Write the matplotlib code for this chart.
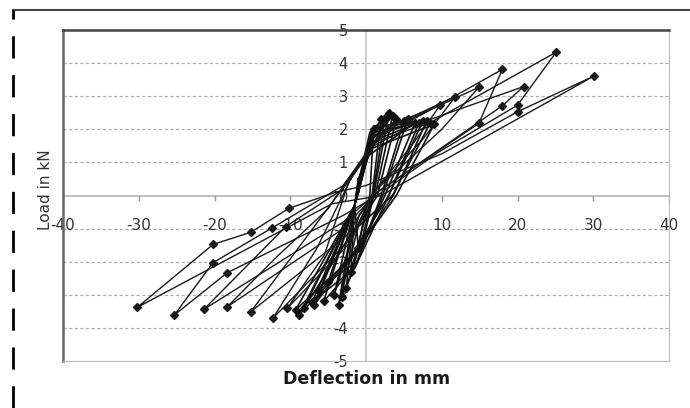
import matplotlib.pyplot as plt
from matplotlib.lines import Line2D

plt.rcParams['font.family'] = ['DejaVu Sans']

# large cycles: deflection (mm) and load (kN) in loading order, marker indices
c30_x = [-4.0, 0.0, 10.1, 20.0, 30.1, 2.0, -4.5, -30.2, -20.2, -15.2, -10.2, -4.0]
c30_y = [0.1, 0.3, 1.27, 2.53, 3.61, 0.0, -0.25, -3.38, -1.48, -1.11, -0.39, 0.1]
c30_m = [3, 4, 7, 8, 9, 10]

c25_x = [-3.0, 1.0, 8.7, 25.1, 20.0, 9.5, 1.5, -3.0, -18.3, -25.3, -20.2, -12.4, -3.0]
c25_y = [0.3, 1.6, 2.23, 4.33, 2.73, 1.3, 0.0, -0.6, -2.33, -3.61, -2.03, -0.98, 0.3]
c25_m = [3, 4, 8, 9, 10, 11]

c20_x = [-3.0, 1.0, 6.0, 20.8, 18.0, 1.5, -3.0, -21.4, -10.6, -3.0]
c20_y = [0.2, 1.5, 2.1, 3.29, 2.71, 0.1, -0.8, -3.44, -0.94, 0.2]
c20_m = [3, 4, 7, 8]

c18_x = [-3.0, 2.0, 5.7, 18.0, 14.9, 1.5, -3.0, -18.3, -12.0, -5.0, -3.0]
c18_y = [0.3, 1.8, 2.23, 3.81, 2.18, 0.1, -1.0, -3.36, -1.9, -0.4, 0.3]
c18_m = [2, 3, 4, 7]

c15_x = [-2.5, 2.0, 14.9, 10.0, 1.0, -2.5, -15.2, -8.0, -2.5]
c15_y = [0.4, 1.9, 3.27, 2.0, 0.1, -1.2, -3.51, -1.3, 0.4]
c15_m = [2, 6]

c12_x = [-2.0, 2.5, 11.8, 7.5, 1.0, -2.0, -12.3, -6.5, -2.0]
c12_y = [0.5, 2.0, 2.99, 1.7, 0.1, -1.3, -3.71, -1.6, 0.5]
c12_m = [2, 6]

c10_x = [-2.0, 3.0, 9.8, 6.0, 1.0, -2.0, -10.4, -5.5, -2.0]
c10_y = [0.6, 2.1, 2.73, 1.5, 0.1, -1.4, -3.41, -1.8, 0.6]
c10_m = [2, 6]

big_cycles = [(c30_x, c30_y, c30_m), (c25_x, c25_y, c25_m), (c20_x, c20_y, c20_m),
              (c18_x, c18_y, c18_m), (c15_x, c15_y, c15_m), (c12_x, c12_y, c12_m),
              (c10_x, c10_y, c10_m)]

# small cycles near the origin: start, shoulder, + peak, zero crossing, - shoulder, - peak
small_start_y = [0.3, 0.2, 0.4, 0.1, 0.3, 0.5, 0.2, 0.3, 0.1, 0.4, 0.2, 0.3, 0.5, 0.1]
small_sh_x = [0.2, 0.4, 0.5, 0.6, 0.8, 0.3, 0.7, 1.0, 0.5, 0.9, 1.2, 0.4, 0.6, 0.8]
small_sh_y = [1.3, 1.6, 1.9, 1.5, 2.0, 1.2, 1.8, 2.1, 1.4, 1.7, 2.0, 1.6, 1.3, 1.9]
small_pos_x = [1.0, 2.0, 3.0, 4.0, 5.0, 6.5, 7.5, 8.5, 9.0, 3.5, 5.5, 7.0, 2.5, 8.0]
small_pos_y = [2.0, 2.3, 2.49, 2.3, 2.25, 2.2, 2.25, 2.2, 2.15, 2.4, 2.3, 2.2, 2.35, 2.25]
small_zero_x = [0.5, 0.8, 1.0, 1.5, 2.0, 2.5, 3.0, 3.5, 4.0, 1.2, 2.2, 3.0, 0.9, 3.6]
small_nsh_x = [-0.3, -0.5, -0.8, -1.0, -1.2, -0.6, -1.5, -1.8, -2.0, -0.9, -1.3, -1.6, -0.4, -2.2]
small_nsh_y = [-0.7, -1.0, -1.8, -0.9, -2.0, -1.5, -2.2, -1.1, -1.9, -0.6, -2.1, -1.7, -1.2, -2.0]
small_neg_x = [-1.0, -2.0, -3.2, -3.6, -5.0, -6.2, -7.1, -8.2, -9.3, -4.2, -5.6, -6.8, -2.6, -8.8]
small_neg_y = [-1.6, -2.3, -3.06, -3.31, -2.6, -2.9, -3.21, -3.41, -3.46, -3.0, -3.2, -3.3, -2.8, -3.6]

xticks = [-40, -30, -20, -10, 0, 10, 20, 30, 40]
xtick_labels = ['-40', '-30', '-20', '-10', '', '10', '20', '30', '40']
yticks = [-5, -4, -3, -2, -1, 0, 1, 2, 3, 4, 5]
grid_y = [-4, -3, -2, -1, 1, 2, 3, 4]

fig = plt.figure(figsize=(6.9, 4.08), dpi=100)
ax = fig.add_axes([63 / 690, 1 - 361 / 408, 606 / 690, 331 / 408])
ax.set_xlim(-40, 40)
ax.set_ylim(-5, 5)

for gy in grid_y:
    ax.axhline(gy, color='#ababab', lw=0.9, linestyle=(0, (2.5, 2)), zorder=0)
ax.axhline(0, color='#b5b5b5', lw=1.2, zorder=0)
ax.axvline(0, color='#c8c8c8', lw=1.2, zorder=0)

# small cycles first, then the big loops with markers
for i in range(len(small_pos_x)):
    sx = [-1.0, small_sh_x[i], small_pos_x[i], small_zero_x[i], small_nsh_x[i], small_neg_x[i], -1.5, -1.0]
    sy = [small_start_y[i], small_sh_y[i], small_pos_y[i], 0.0, small_nsh_y[i], small_neg_y[i], -0.3, small_start_y[i]]
    ax.plot(sx, sy, color='#111111', lw=1.2, zorder=2,
            marker='D', markersize=4, markevery=[2, 5])

for cx, cy, cm in big_cycles:
    ax.plot(cx, cy, color='#1a1a1a', lw=1.0, zorder=3,
            marker='D', markersize=4.5, markevery=cm)

ax.set_xticks([])
ax.set_yticks([])
ax.spines['left'].set_color('#666666')
ax.spines['left'].set_linewidth(1.8)
ax.spines['top'].set_color('#444444')
ax.spines['top'].set_linewidth(1.8)
ax.spines['right'].set_color('#bbbbbb')
ax.spines['bottom'].set_color('#bbbbbb')

# axes crossing at zero, excel style
secx = ax.secondary_xaxis(0.5)
secx.set_alignment('bottom')
secx.set_xticks(xticks, xtick_labels)
secx.tick_params(direction='out', length=4, width=1, color='#999999', pad=12,
                 labelsize=11, labelcolor='#333333')
secx.spines['bottom'].set_visible(False)

secy = ax.secondary_yaxis(0.5)
secy.set_alignment('left')
secy.set_yticks(yticks, [str(v) for v in yticks])
secy.tick_params(length=0, pad=13, labelsize=10.5, labelcolor='#333333')
secy.spines['left'].set_visible(False)

fig.text(367 / 690, 1 - 379 / 408, 'Deflection in mm', ha='center', va='center',
         fontsize=12.5, fontweight='bold', color='#1a1a1a')
fig.text(45 / 690, 1 - 190 / 408, 'Load in kN', ha='center', va='center',
         rotation=90, fontsize=11, color='#333333')

# outer frame of the scanned figure
fig.add_artist(Line2D([13 / 690, 1], [1 - 10 / 408, 1 - 10 / 408], color='#444444', lw=1.5))
fig.add_artist(Line2D([13 / 690, 13 / 690], [0, 1 - 10 / 408], color='black', lw=2,
                      linestyle=(0, (8, 6))))

plt.savefig('out.png', dpi=100)
